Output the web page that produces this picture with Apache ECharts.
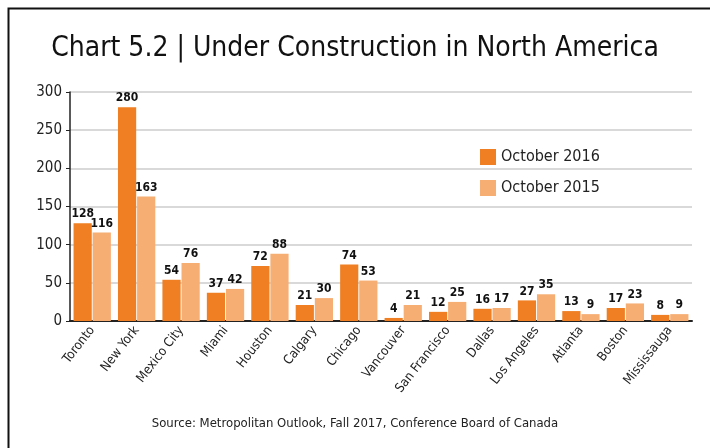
<!DOCTYPE html>
<html>
<head>
<meta charset="utf-8">
<script src="https://cdn.jsdelivr.net/npm/echarts@6/dist/echarts.min.js"></script>
<style>
  html, body { margin: 0; padding: 0; background: #fff; }
  #chart { width: 710px; height: 448px; }
</style>
</head>
<body>
<div id="chart"></div>
<script>
// Chart 5.2 - under construction, by city
const cities = ['Toronto', 'New York', 'Mexico City', 'Miami', 'Houston', 'Calgary', 'Chicago',
  'Vancouver', 'San Francisco', 'Dallas', 'Los Angeles', 'Atlanta', 'Boston', 'Mississauga'];
const oct2016 = [128, 280, 54, 37, 72, 21, 74, 4, 12, 16, 27, 13, 17, 8];
const oct2015 = [116, 163, 76, 42, 88, 30, 53, 21, 25, 17, 35, 9, 23, 9];
const yTicks = [0, 50, 100, 150, 200, 250, 300];

const font = '"Liberation Sans Narrow", "DejaVu Sans Condensed", "Roboto Condensed", sans-serif';

const myChart = echarts.init(document.getElementById('chart'));

const barLabel = {
  show: true,
  position: 'top',
  distance: 3,
  fontFamily: font,
  fontSize: 12,
  fontWeight: 'bold',
  color: '#111',
};

const option = {
  backgroundColor: '#fff',
  animation: false,
  title: {
    text: 'Chart 5.2 | Under Construction in North America',
    left: 'center',
    top: 30,
    textStyle: { fontFamily: font, fontSize: 28, fontWeight: 'normal', color: '#111' },
  },
  legend: {
    orient: 'vertical',
    left: 475,
    top: 144,
    itemWidth: 16,
    itemHeight: 16,
    itemGap: 15,
    icon: 'rect',
    textStyle: { fontFamily: font, fontSize: 16, color: '#222' },
    data: ['October 2016', 'October 2015'],
  },
  grid: { left: 70, right: 18, top: 92, bottom: 127 },
  xAxis: {
    type: 'category',
    data: cities,
    axisLine: { lineStyle: { color: '#222', width: 2 } },
    axisTick: { show: false },
    axisLabel: {
      rotate: 52,
      interval: 0,
      margin: 7,
      fontFamily: font,
      fontSize: 13,
      color: '#222',
    },
  },
  yAxis: {
    type: 'value',
    min: yTicks[0],
    max: yTicks[yTicks.length - 1],
    interval: 50,
    axisLine: { show: true, lineStyle: { color: '#222', width: 1.5 } },
    axisTick: { show: true, length: 4, lineStyle: { color: '#222' } },
    axisLabel: { fontFamily: font, fontSize: 15, color: '#222', margin: 8 },
    splitLine: { lineStyle: { color: '#d9d9d9', width: 2 } },
  },
  series: [
    {
      name: 'October 2016',
      type: 'bar',
      data: oct2016,
      barGap: '5%',
      barCategoryGap: '16%',
      itemStyle: { color: '#ef7f22' },
      label: barLabel,
    },
    {
      name: 'October 2015',
      type: 'bar',
      data: oct2015,
      itemStyle: { color: '#f6ae73' },
      label: barLabel,
    },
  ],
  graphic: [
    // frame, only left and top edges fall inside the picture
    {
      type: 'rect',
      shape: { x: 8.5, y: 8.5, width: 720, height: 460 },
      style: { fill: 'none', stroke: '#111', lineWidth: 2 },
      silent: true,
    },
    {
      type: 'text',
      left: 'center',
      top: 417,
      style: {
        text: 'Source: Metropolitan Outlook, Fall 2017, Conference Board of Canada',
        fontFamily: font,
        fontSize: 13,
        fill: '#222',
      },
    },
  ],
};

myChart.setOption(option);
</script>
</body>
</html>
